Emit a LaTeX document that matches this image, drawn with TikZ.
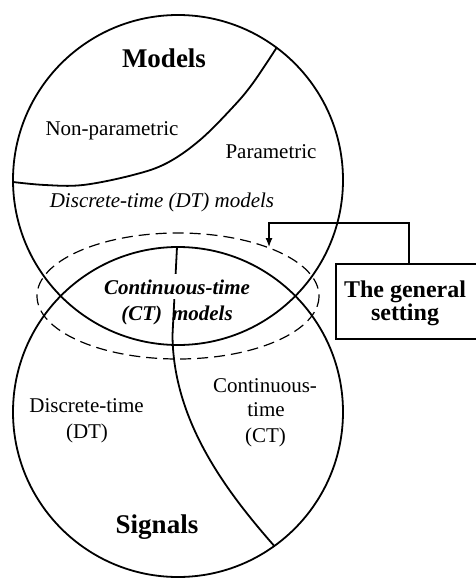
\documentclass[tikz,border=0pt]{standalone}
\usepackage{fontspec}
\setmainfont{Liberation Serif}
\usetikzlibrary{arrows.meta}
\begin{document}
\begin{tikzpicture}[x=1pt,y=-1pt,
  outline/.style={line width=1.8pt},
  setdash/.style={line width=1.2pt, dash pattern=on 11pt off 6pt},
  body/.style={font=\fontsize{21}{24}\selectfont, inner sep=0pt, anchor=base},
  head/.style={font=\fontsize{27}{30}\selectfont\bfseries, inner sep=0pt, anchor=base},
  boxtxt/.style={font=\fontsize{24}{27}\selectfont\bfseries, inner sep=0pt, anchor=base},
  ctext/.style={font=\fontsize{21}{24}\selectfont\bfseries\itshape, inner sep=0pt, anchor=base},
  pointer/.style={line width=1.2pt, -{Latex[length=9pt,width=7pt]}}
]
% page frame
\fill[white] (0,0) rectangle (475,580);
\useasboundingbox (0,0) rectangle (475,580);

% the two sets
\draw[outline] (178,180) circle [radius=165];
\draw[outline] (178,412) circle [radius=165];

% parametric / non-parametric split and DT boundary
\draw[outline] plot[smooth, tension=0.6] coordinates
  {(276.6,47.7) (253,83) (233,107) (200,140) (167,163) (133,175) (83,185) (45,185) (13,182)};

% DT / CT split through the overlap and the signal set
\draw[outline] (177,247) -- (172.5,335)
  .. controls (173,420) and (225,490) .. (274.3,546);

% the general setting
\draw[setdash] (178,296) ellipse [x radius=141, y radius=63];

% labels
\node[head] (models) at (164,68) {Models};
\node[body] (nonpar) at (112,136) {Non-parametric};
\node[body] (par) at (271,158) {Parametric};
\node[body] (dtmodels) at (162,207) {\itshape Discrete-time (DT) models};
\node[ctext, fill=white, inner ysep=5pt] (ctone) at (177,294) {Continuous-time};
\node[ctext] (cttwo) at (177,320) {(CT)\hspace*{10pt}models};

\node[body] (dsone) at (86.5,412) {Discrete-time};
\node[body] (dstwo) at (87,438) {(DT)};
\node[body] (csone) at (265,392) {Continuous-};
\node[body] (cstwo) at (266,416) {time};
\node[body] (csthree) at (265.5,442) {(CT)};
\node[head] (signals) at (157,533) {Signals};

% callout box and its pointer
\node[draw, line width=1.8pt, minimum width=150pt, minimum height=75pt,
      anchor=north west, inner sep=0pt] (box) at (335,263) {};
\node[boxtxt] (gen) at (405,297) {The general};
\node[boxtxt] (sett) at (405,320) {setting};
\coordinate (tip) at (269,247);
\draw[pointer] ([xshift=-2pt]box.north) -- ++(0,-40) -| (tip);
\end{tikzpicture}
\end{document}
